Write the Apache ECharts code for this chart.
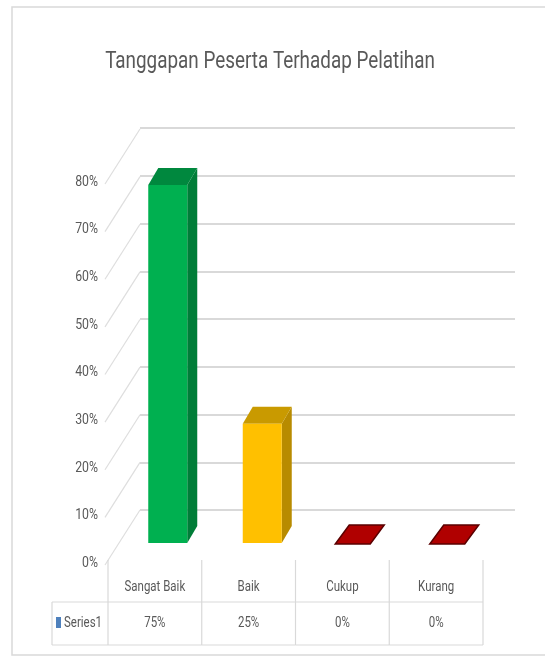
<!DOCTYPE html>
<html><head><meta charset="utf-8">
<script src="https://cdn.jsdelivr.net/npm/echarts@6/dist/echarts.min.js"></script>
<style>html,body{margin:0;padding:0;background:#fff}#c{width:545px;height:662px}</style>
</head><body><div id="c"></div>
<script>
var categories = ['Sangat Baik', 'Baik', 'Cukup', 'Kurang'];
var values = [0.75, 0.25, 0, 0];
var yTicks = [0, 0.1, 0.2, 0.3, 0.4, 0.5, 0.6, 0.7, 0.8];
var seriesName = 'Series1';
var titleText = 'Tanggapan Peserta Terhadap Pelatihan';

var FONT = "'Liberation Sans Narrow', Roboto, sans-serif";
var TXT = '#595959';
var SX = 0.82;
var faces = [
  {front: '#00b050', side: '#007d38', top: '#00883e', edge: '#006a2e'},
  {front: '#ffc000', side: '#b88b00', top: '#c99a00', edge: '#a07800'},
  {front: '#b00000', side: '#700000', top: '#b00000', edge: '#5a0000'},
  {front: '#b00000', side: '#700000', top: '#b00000', edge: '#5a0000'}
];
function pct(v){ return Math.round(v * 100) + '%'; }

var chart = echarts.init(document.getElementById('c'), null, {renderer: 'canvas'});
var option = {
  animation: false,
  grid: [
    {left: 140, top: 128, width: 375, height: 382},
    {left: 105, top: 182, width: 40, height: 381},
    {left: 120, top: 161, width: 378, height: 382},
    {left: 108, top: 560, width: 375, height: 85}
  ],
  xAxis: [
    {gridIndex: 0, type: 'category', data: categories, show: false},
    {gridIndex: 1, type: 'value', min: 0, max: 1, show: false},
    {gridIndex: 2, type: 'category', data: categories, show: false},
    {gridIndex: 3, type: 'category', data: categories, show: false}
  ],
  yAxis: [
    {gridIndex: 0, type: 'value', min: 0, max: 0.8, interval: 0.1,
      axisLine: {show: false}, axisTick: {show: false}, axisLabel: {show: false},
      splitLine: {lineStyle: {color: '#d9d9d9', width: 2}}},
    {gridIndex: 1, type: 'value', min: 0, max: 0.8, interval: 0.1,
      axisLine: {show: false}, axisTick: {show: false}, splitLine: {show: false},
      axisLabel: {show: false}},
    {gridIndex: 2, type: 'value', min: 0, max: 0.8, show: false},
    {gridIndex: 3, type: 'value', min: 0, max: 1, show: false}
  ],
  series: [
    {
      type: 'custom', xAxisIndex: 1, yAxisIndex: 1, silent: true,
      data: yTicks,
      renderItem: function(params, api){
        var v = api.value(0);
        var p = api.coord([0, v]);
        return {type: 'group', children: [
          {type: 'line', shape: {x1: p[0], y1: p[1] + 2, x2: p[0] + 35, y2: p[1] - 53},
            style: {stroke: '#dedede', lineWidth: 1.2}},
          {type: 'text', x: p[0] - 7, y: p[1], scaleX: SX,
            style: {text: pct(v), fontFamily: FONT, fontSize: 15, fill: TXT, align: 'right', verticalAlign: 'middle'}}
        ]};
      }
    },
    {
      type: 'custom', xAxisIndex: 2, yAxisIndex: 2, silent: true,
      data: values.map(function(v, i){ return [i, v]; }),
      renderItem: function(params, api){
        var i = api.value(0), v = api.value(1);
        var base = api.coord([i, 0]);
        var topP = api.coord([i, v]);
        var f = faces[i];
        var dx = 10, dy = -17, w = 39;
        var x0 = base[0] - 19, x1 = x0 + w, y0 = base[1], y1 = topP[1];
        if (v <= 0) {
          var sx0 = base[0] - 21, sw = 35, ddx = 14, ddy = -19;
          return {type: 'polygon', shape: {points: [[sx0, y0 + 1], [sx0 + sw, y0 + 1], [sx0 + sw + ddx, y0 + 1 + ddy], [sx0 + ddx, y0 + 1 + ddy]]},
            style: {fill: f.top, stroke: f.edge, lineWidth: 1.5}};
        }
        return {type: 'group', children: [
          {type: 'polygon', shape: {points: [[x1, y0], [x1 + dx, y0 + dy], [x1 + dx, y1 + dy], [x1, y1]]},
            style: {fill: f.side}},
          {type: 'polygon', shape: {points: [[x0, y1], [x1, y1], [x1 + dx, y1 + dy], [x0 + dx, y1 + dy]]},
            style: {fill: f.top}},
          {type: 'rect', shape: {x: x0, y: y1, width: w, height: y0 - y1},
            style: {fill: f.front}}
        ]};
      }
    },
    {
      type: 'custom', xAxisIndex: 3, yAxisIndex: 3, silent: true,
      data: values.map(function(v, i){ return [i, v]; }),
      renderItem: function(params, api){
        var i = api.value(0), v = api.value(1);
        var c = api.coord([i, 1]);
        var bw = api.size([1, 0])[0];
        var top = c[1], bottom = api.coord([i, 0])[1];
        var xl = c[0] - bw / 2, xr = c[0] + bw / 2;
        var ln = {stroke: '#d9d9d9', lineWidth: 1.2};
        var kids = [
          {type: 'line', shape: {x1: xl, y1: top, x2: xl, y2: bottom}, style: ln},
          {type: 'line', shape: {x1: xl, y1: top + 42, x2: xr, y2: top + 42}, style: ln},
          {type: 'line', shape: {x1: xl, y1: bottom, x2: xr, y2: bottom}, style: ln},
          {type: 'text', x: c[0], y: top + 27, scaleX: SX, style: {text: categories[i], fontFamily: FONT, fontSize: 14, fill: TXT, align: 'center', verticalAlign: 'middle'}},
          {type: 'text', x: c[0], y: top + 63, scaleX: SX, style: {text: pct(v), fontFamily: FONT, fontSize: 14, fill: TXT, align: 'center', verticalAlign: 'middle'}}
        ];
        if (i === categories.length - 1) {
          kids.push({type: 'line', shape: {x1: xr, y1: top, x2: xr, y2: bottom}, style: ln});
        }
        return {type: 'group', children: kids};
      }
    }
  ],
  graphic: [
    {type: 'rect', shape: {x: 12, y: 7, width: 560, height: 648}, style: {fill: 'none', stroke: '#d9d9d9', lineWidth: 1.5}, silent: true},
    {type: 'text', x: 270, y: 62, scaleX: 0.82, style: {text: titleText, fontFamily: FONT, fontSize: 23, fill: TXT, align: 'center', verticalAlign: 'middle'}},
    {type: 'line', shape: {x1: 52, y1: 602, x2: 108, y2: 602}, style: {stroke: '#d9d9d9', lineWidth: 1.2}},
    {type: 'line', shape: {x1: 52, y1: 645, x2: 108, y2: 645}, style: {stroke: '#d9d9d9', lineWidth: 1.2}},
    {type: 'line', shape: {x1: 52, y1: 602, x2: 52, y2: 645}, style: {stroke: '#d9d9d9', lineWidth: 1.2}},
    {type: 'rect', shape: {x: 56, y: 617, width: 5, height: 11}, style: {fill: '#4f81bd'}},
    {type: 'text', x: 64, y: 623, scaleX: SX, style: {text: seriesName, fontFamily: FONT, fontSize: 14, fill: TXT, verticalAlign: 'middle'}}
  ]
};
chart.setOption(option);
</script></body></html>
